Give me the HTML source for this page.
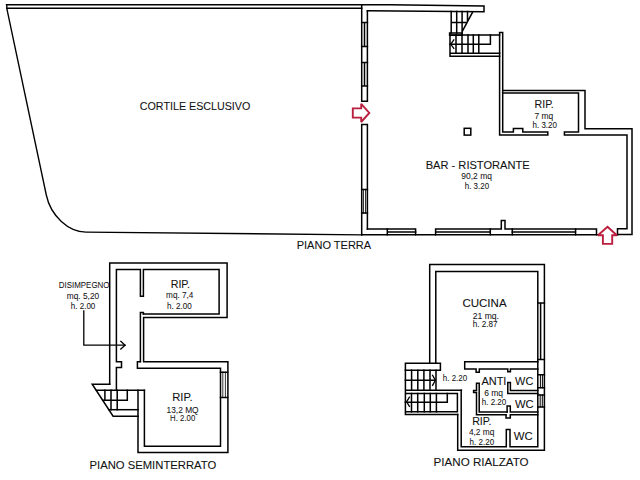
<!DOCTYPE html>
<html><head><meta charset="utf-8"><style>
html,body{margin:0;padding:0;background:#fff;width:640px;height:480px;overflow:hidden}
svg{display:block}
text{font-family:"Liberation Sans",sans-serif;fill:#111;stroke:#111;stroke-width:0.08px}
.S{stroke-width:0.05px}
.L{font-size:11.8px}
.S{font-size:8.3px}
</style></head><body>
<svg width="640" height="480" viewBox="0 0 640 480">
<g fill="none" stroke="#000" stroke-width="1.5" stroke-linejoin="miter" stroke-linecap="square">
<!-- ===== PIANO TERRA ===== -->
<!-- courtyard -->
<path d="M6.6,4.7 H390 L484,5.9 V11.7 L367.4,10.7"/>
<path d="M7,8.2 H361.7"/>
<path d="M6.8,4.7 V8.5 L46.3,195 C50.7,216.1 68.7,231.9 86,232.1 L361.7,234.8" stroke-width="1.35"/>
<!-- left building wall -->
<path d="M361.7,4.7 V101.3 H367.4 V10.7"/>
<path d="M361.7,234.8 V124.5 H367.4 V229"/>
<!-- windows left wall -->
<path d="M361.7,22.4 H367.4 M361.7,46.5 H367.4 M364.5,22.4 V46.5"/>
<path d="M361.7,62.6 H367.4 M361.7,85.9 H367.4 M364.5,62.6 V85.9"/>
<path d="M361.7,189.4 H367.4 M361.7,213.1 H367.4"/><path d="M363.4,189.4 V213.1 M365.6,189.4 V213.1" stroke-width="0.9"/>
<!-- bottom wall -->
<path d="M361.7,234.8 L617.5,234.8"/>
<path d="M367.4,229 H415.6 V234.8"/>
<path d="M387.3,229 V234.8 M387.3,232 H415.6"/>
<path d="M435.6,234.8 V229 H490.3 V234.8 M435.6,232 H490.3"/>
<path d="M490.3,229 H501.3 V220.4 H505 V229 H512.3 V234.8"/>
<path d="M512.3,229 H575.6 V234.8 M512.3,232 H575.6"/>
<path d="M575.6,229 H596.5 V234.8"/>
<!-- right walls -->
<path d="M617.5,234.6 H632 V128.8 H585 V90.6 H502.7"/>
<path d="M617.5,234.6 V228.8 H627 V135 H564.4 V132 H578.5 V93 H502.7"/>
<path d="M499.6,32.5 V135 H547.8 V132 H522.8 V128.5 H513.4 V132 H502.7 V32.5 Z"/>
<!-- stairs top -->
<path d="M451.2,11.5 V33 M456.7,11.5 V33 M462.1,11.5 V33 M451.2,22.5 H466 M467.5,11.5 V21 M472.5,12.3 L462.1,31.7"/>
<path d="M449.6,32.9 H462.1 V35.3 H449.6 Z"/>
<path d="M450,35 H499.6 M450,35 V56.2 M450,53.3 H499.6 M450,56.2 H499.6"/>
<path d="M456,35 V53.3 M462,35 V53.3 M468,35 V53.3 M473.3,35 V53.3 M478.8,35 V53.3"/>
<path d="M450,44.2 H490.4 V35"/>
<path d="M453.8,40 L450.8,44.3 L453.8,48.3" stroke-width="1.3"/>
<!-- small square -->
<rect x="464.2" y="128.3" width="6.6" height="6.8" stroke-width="1.5"/>

<!-- ===== PIANO SEMINTERRATO ===== -->
<path d="M109.7,384.2 V263.1 H227.1 V317.6 H143.6 V361.8 H227.9 V452.5 H138 V390.3"/>
<path d="M116.4,390.3 V367.6 H121.5 V361.7 H116.4 V269.5 H140.4 V296.2 H143.4 V269.5 H219.1 V313.9 H143.4"/>
<path d="M140.4,361.6 V312.4 H143.4 V313.9"/>
<path d="M140.4,361.8 H137.4 V368.2 H220.5 V446.3 H144.4 V390.3"/>
<path d="M220.5,372.2 H227.5 M220.5,397.5 H227.5"/><path d="M222.8,372.2 V397.5 M225.4,372.2 V397.5" stroke-width="0.8"/>
<!-- stairs semi -->
<path d="M109.7,384.2 H92.2 L113.1,416.2 H138"/>
<path d="M96.5,390.3 H144.4"/>
<path d="M104.9,390.3 V400.3 M111,390.3 V409.7 M117.2,390.3 V409.7"/>
<path d="M102.7,400.3 H127.3 V390.3"/>
<path d="M108.9,409.7 H138"/>
<!-- disimpegno arrow -->
<path d="M83.8,310.8 V345.2 H125" stroke-width="1.3"/>
<path d="M120.8,341.3 L125,345.2 L120.8,349" stroke-width="1.3"/>

<!-- ===== PIANO RIALZATO ===== -->
<path d="M429.7,363.3 V264.6 H544.4 V450.2 H457.7 V414.6"/>
<path d="M435.8,363.3 V271.5 H537.8 V446.8 H510 V429.4 H506.3 V446.8 H461.2 V390.3"/>
<!-- right windows -->
<path d="M537.8,303.1 H544.4 M537.8,359.6 H544.4 M540.6,303.1 V359.6"/>
<path d="M537.8,374.8 H544.4 M537.8,387.8 H544.4"/><path d="M540.4,374.8 V387.8 M542.4,374.8 V387.8" stroke-width="1"/>
<path d="M537.8,395 H544.4 M537.8,406.9 H544.4"/><path d="M540.2,395 V406.9 M542.3,395 V406.9" stroke-width="1"/>
<!-- cucina bottom wall -->
<path d="M464.7,361.8 H537.8 M464.7,361.8 V369.1 H476.1 V372.2 H479.3 V369.1 H507.8 V371.8 H510.4 V369.1 H537.8"/>
<!-- landing + stairs -->
<path d="M405.4,363.3 H440.4 V370.2 H405.4 Z"/>
<path d="M405.4,370.2 V414.6 H457.7 M405.4,411.8 H457.4 V393.5 H405.4 M405.4,390.3 H461.4"/>
<path d="M411.6,370.2 V390.3 M417.8,370.2 V390.3 M423.9,370.2 V390.3 M430,370.2 V390.3 M436,370.2 V390.3 M405.4,380.3 H436"/>
<path d="M411.5,393.5 V411.8 M417.7,393.5 V411.8 M424.3,393.5 V411.8 M430.3,393.5 V411.8 M436.4,393.5 V411.8"/>
<path d="M405.4,402.3 H447.3 V393.5"/>
<path d="M432.6,375.3 L435.4,380.3 L432.6,385.3" stroke-width="1.3"/>
<path d="M409.4,397.2 L406.6,401.8 L409.4,406.4" stroke-width="1.3"/>
<!-- ANTI / WC walls -->
<path d="M476.5,383.3 H479.2 V412.1 H507.1 M476.5,383.3 V390.4 H473.6 V392.5 H476.5 V414.8 H506"/>
<path d="M507.8,382.6 H510.4 V390.4 H537.8 M507.8,382.6 V393.5 H537.8"/>
<path d="M507.1,412.1 V405.9 H510.3 V412.1 H537.8 M506,414.8 V418.1 H510.3 V414.8 H537.8"/>
</g>
<!-- red arrows -->
<g fill="#fff" stroke="#bb1f3f" stroke-width="1.9" stroke-linejoin="miter" stroke-miterlimit="2.5">
<path d="M352.8,108.4 H361.2 V103.8 L369.3,112.9 L361.2,122 V117.6 H352.8 Z"/>
<path d="M607.5,226.8 L616.8,235.3 H612.2 V243.9 H602.9 V235.3 H598 Z"/>
</g>
<!-- TEXT -->
<text class="L" x="139.8" y="109.9" textLength="110.5" lengthAdjust="spacingAndGlyphs">CORTILE ESCLUSIVO</text>
<text class="L" x="296.7" y="249.2" textLength="74.5" lengthAdjust="spacingAndGlyphs">PIANO TERRA</text>
<text class="L" x="425.7" y="169.3" textLength="104" lengthAdjust="spacingAndGlyphs">BAR - RISTORANTE</text>
<text class="S" x="461.3" y="179.1" textLength="30.6" lengthAdjust="spacingAndGlyphs">90,2 mq</text>
<text class="S" x="464.7" y="188.5" textLength="24.4" lengthAdjust="spacingAndGlyphs">h. 3.20</text>
<text class="L" x="534.6" y="108" textLength="19.2" lengthAdjust="spacingAndGlyphs">RIP.</text>
<text class="S" x="534.4" y="119" textLength="18.7" lengthAdjust="spacingAndGlyphs">7 mq</text>
<text class="S" x="532.5" y="127.5" textLength="24.5" lengthAdjust="spacingAndGlyphs">h. 3.20</text>

<text class="S" x="58.7" y="288" textLength="50.8" lengthAdjust="spacingAndGlyphs">DISIMPEGNO</text>
<text class="S" x="66.7" y="299.2" textLength="32.5" lengthAdjust="spacingAndGlyphs">mq. 5,20</text>
<text class="S" x="70.8" y="308.8" textLength="24.5" lengthAdjust="spacingAndGlyphs">h. 2.00</text>
<text class="L" x="170.7" y="287.6" textLength="19.4" lengthAdjust="spacingAndGlyphs">RIP.</text>
<text class="S" x="166.1" y="297.9" textLength="27.3" lengthAdjust="spacingAndGlyphs">mq. 7,4</text>
<text class="S" x="167" y="308.9" textLength="24.7" lengthAdjust="spacingAndGlyphs">h. 2.00</text>
<text class="L" x="172.3" y="401" textLength="20.3" lengthAdjust="spacingAndGlyphs">RIP.</text>
<text class="S" x="166.6" y="412.5" textLength="32" lengthAdjust="spacingAndGlyphs">13,2 MQ</text>
<text class="S" x="170.1" y="421.4" textLength="25.2" lengthAdjust="spacingAndGlyphs">H. 2.00</text>
<text class="L" x="89.5" y="468.8" textLength="126.7" lengthAdjust="spacingAndGlyphs">PIANO SEMINTERRATO</text>

<text class="L" x="462.4" y="306.6" textLength="44.2" lengthAdjust="spacingAndGlyphs">CUCINA</text>
<text class="S" x="472.7" y="318.7" textLength="26.3" lengthAdjust="spacingAndGlyphs">21 mq.</text>
<text class="S" x="472.7" y="327.2" textLength="24.8" lengthAdjust="spacingAndGlyphs">h. 2.87</text>
<text class="S" x="442.8" y="381.3" textLength="24.4" lengthAdjust="spacingAndGlyphs">h. 2.20</text>
<text class="L" x="481.4" y="384.7" textLength="25" lengthAdjust="spacingAndGlyphs">ANTI</text>
<text class="L" x="515.1" y="384.5" textLength="18.2" lengthAdjust="spacingAndGlyphs">WC</text>
<text class="S" x="484.2" y="396" textLength="18.9" lengthAdjust="spacingAndGlyphs">6 mq</text>
<text class="S" x="481.7" y="404.7" textLength="24.6" lengthAdjust="spacingAndGlyphs">h. 2.20</text>
<text class="L" x="515" y="407.9" textLength="18.7" lengthAdjust="spacingAndGlyphs">WC</text>
<text class="L" x="472.2" y="424.7" textLength="19.3" lengthAdjust="spacingAndGlyphs">RIP.</text>
<text class="S" x="468.9" y="435.3" textLength="25.5" lengthAdjust="spacingAndGlyphs">4,2 mq</text>
<text class="S" x="469.6" y="444.8" textLength="24.5" lengthAdjust="spacingAndGlyphs">h. 2.20</text>
<text class="L" x="513.8" y="440.3" textLength="19" lengthAdjust="spacingAndGlyphs">WC</text>
<text class="L" x="433.6" y="465.6" textLength="95" lengthAdjust="spacingAndGlyphs">PIANO RIALZATO</text>
</svg>
</body></html>
